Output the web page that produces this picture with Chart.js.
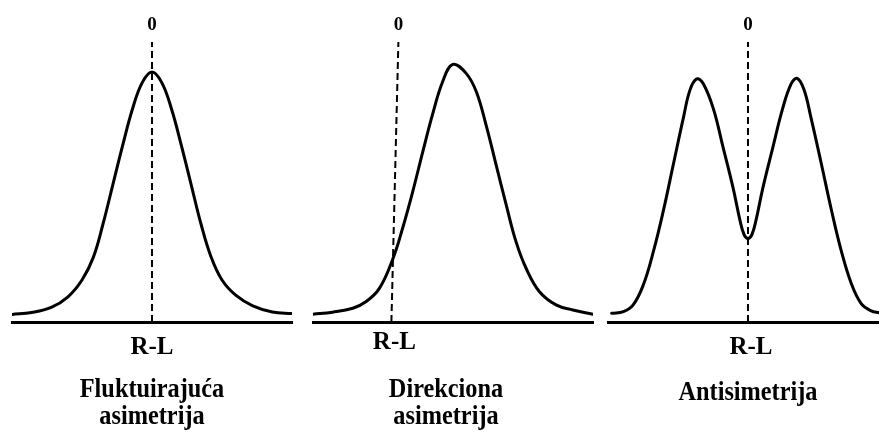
<!DOCTYPE html>
<html>
<head>
<meta charset="utf-8">
<script src="https://cdn.jsdelivr.net/npm/chart.js@4.4.0/dist/chart.umd.min.js"></script>
<style>
  body { margin: 0; background: #fff; }
  #wrap { position: relative; width: 879px; height: 434px; overflow: hidden; }
  canvas { position: absolute; top: 0; }
</style>
</head>
<body>
<div id="wrap">
  <canvas id="c1" width="300" height="434" style="left:0px"></canvas>
  <canvas id="c2" width="300" height="434" style="left:300px"></canvas>
  <canvas id="c3" width="279" height="434" style="left:600px"></canvas>
</div>
<script>
// distribution of R-L (right minus left)
const fluktX = [-5, -4.3, -3.6, -3.0, -2.5, -2.1, -1.75, -1.4, -1.05, -0.7, -0.35, 0, 0.35, 0.7, 1.05, 1.4, 1.75, 2.1, 2.5, 3.0, 3.6, 4.3, 5];
const fluktY = [0.027, 0.034, 0.052, 0.09, 0.15, 0.23, 0.35, 0.49, 0.63, 0.76, 0.855, 0.893, 0.855, 0.76, 0.63, 0.49, 0.35, 0.235, 0.15, 0.095, 0.058, 0.036, 0.03];

const direkX = [-2.81, -2.1, -1.38, -0.9, -0.43, 0.05, 0.4, 0.76, 1.12, 1.48, 1.83, 2.19, 2.67, 3.03, 3.38, 3.74, 4.1, 4.45, 4.81, 5.29, 5.88, 6.48, 7.19];
const direkY = [0.028, 0.035, 0.049, 0.073, 0.12, 0.225, 0.335, 0.465, 0.608, 0.745, 0.858, 0.92, 0.888, 0.823, 0.704, 0.561, 0.418, 0.287, 0.192, 0.108, 0.061, 0.043, 0.028];

const antiX = [-4.87, -4.45, -4.1, -3.74, -3.38, -3.03, -2.67, -2.31, -2.07, -1.83, -1.6, -1.24, -0.88, -0.53, -0.29, -0.14, 0, 0.14, 0.29, 0.53, 0.88, 1.24, 1.55, 1.76, 2.0, 2.25, 2.62, 2.98, 3.33, 3.7, 4.05, 4.4, 4.7];
const antiY = [0.031, 0.037, 0.061, 0.132, 0.251, 0.394, 0.561, 0.728, 0.829, 0.868, 0.852, 0.763, 0.62, 0.478, 0.365, 0.312, 0.298, 0.312, 0.365, 0.478, 0.62, 0.763, 0.852, 0.87, 0.83, 0.73, 0.565, 0.4, 0.255, 0.135, 0.065, 0.04, 0.033];

// zero reference line: bottom and top x
const zeroBottom = [0, 0, 0];
const zeroTop = [0, 0.25, 0];

const topLabel = '0';
const axisLabel = 'R-L';
const captions = [
    ['Fluktuirajuća', 'asimetrija'],
    ['Direkciona', 'asimetrija'],
    ['Antisimetrija']
];

const serif = '"Liberation Serif", "Times New Roman", serif';

function toPoints(xs, ys) {
    let pts = [];
    for (let i = 0; i < xs.length; i++) pts.push({ x: xs[i], y: ys[i] });
    return pts;
}

function drawText(ctx, text, x, y, font, sx) {
    ctx.save();
    ctx.font = font;
    ctx.fillStyle = '#000';
    ctx.textAlign = 'center';
    ctx.textBaseline = 'alphabetic';
    ctx.translate(x, y);
    ctx.scale(sx, 1);
    ctx.fillText(text, 0, 0);
    ctx.restore();
}

const labelsPlugin = {
    id: 'labels',
    afterDraw(chart) {
        const p = chart.options.plugins.labels;
        const ctx = chart.ctx;
        const xs = chart.scales.x;
        const area = chart.chartArea;
        drawText(ctx, topLabel, xs.getPixelForValue(zeroTop[p.idx]), area.top - 12, 'bold 19px ' + serif, 1);
        drawText(ctx, axisLabel, xs.getPixelForValue(zeroBottom[p.idx]) + p.rlShift, area.bottom + p.rlDrop, 'bold 25px ' + serif, 1);
        const lines = captions[p.idx];
        for (let i = 0; i < lines.length; i++) {
            drawText(ctx, lines[i], xs.getPixelForValue(p.capAt), area.bottom + p.capDrop + i * 27, 'bold 27px ' + serif, 0.9);
        }
    }
};

function makePanel(id, idx, xsArr, ysArr, cfg) {
    new Chart(document.getElementById(id), {
        type: 'line',
        data: {
            datasets: [
                {
                    data: [{ x: zeroBottom[idx], y: 0 }, { x: zeroTop[idx], y: 1 }],
                    borderColor: '#000',
                    borderWidth: 2,
                    borderDash: [7, 4],
                    pointRadius: 0,
                    tension: 0
                },
                {
                    data: toPoints(xsArr, ysArr),
                    borderColor: '#000',
                    borderWidth: 3,
                    pointRadius: 0,
                    tension: 0.4,
                    borderCapStyle: 'round',
                    borderJoinStyle: 'round'
                }
            ]
        },
        options: {
            responsive: false,
            animation: false,
            devicePixelRatio: 1,
            layout: { padding: { left: cfg.padL, right: cfg.padR, top: 42, bottom: 112 } },
            scales: {
                x: {
                    type: 'linear',
                    min: cfg.min,
                    max: cfg.max,
                    grid: { display: false, drawTicks: false },
                    ticks: { display: false },
                    border: { display: true, width: 3, color: '#000' }
                },
                y: { display: false, min: 0, max: 1 }
            },
            plugins: {
                legend: { display: false },
                tooltip: { enabled: false },
                labels: { idx: idx, rlDrop: cfg.rlDrop, rlShift: cfg.rlShift, capAt: cfg.capAt, capDrop: cfg.capDrop }
            }
        },
        plugins: [labelsPlugin]
    });
}

makePanel('c1', 0, fluktX, fluktY, { min: -5, max: 5, padL: 12, padR: 8, rlDrop: 32, rlShift: 0, capAt: 0, capDrop: 75 });
makePanel('c2', 1, direkX, direkY, { min: -2.8, max: 7.2, padL: 13, padR: 7, rlDrop: 27, rlShift: 3, capAt: 1.95, capDrop: 75 });
makePanel('c3', 2, antiX, antiY, { min: -5, max: 4.68, padL: 8, padR: 0, rlDrop: 32, rlShift: 3, capAt: 0, capDrop: 78 });
</script>
</body>
</html>
